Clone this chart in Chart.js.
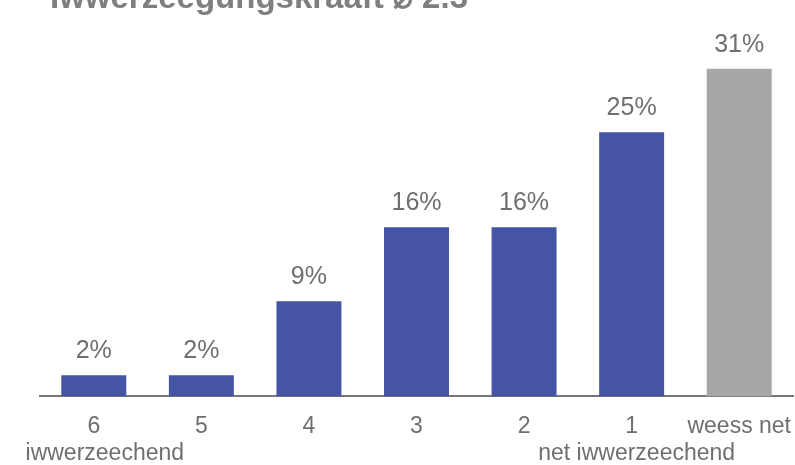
<!DOCTYPE html>
<html>
<head>
<meta charset="utf-8">
<script src="https://cdn.jsdelivr.net/npm/chart.js@4"></script>
<style>
    html, body { margin: 0; padding: 0; background: #fff; }
</style>
</head>
<body>
<canvas id="chart" width="795" height="465"></canvas>
<script>
// data
const categories = ["6", "5", "4", "3", "2", "1", "weess net"];
const shares = [2, 2, 9, 16, 16, 25, 31];
const scaleEnds = ["iwwerzeechend", "net iwwerzeechend"];
const title = "Iwwerzeegungskraaft \u2300 2.3";

const FONT = "'Liberation Sans', Arial, sans-serif";
const textGrey = "#6f6f6f";

// title, value labels and the two scale-end labels
const extraText = {
    id: "extraText",
    afterDatasetsDraw(chart) {
        const ctx = chart.ctx;
        ctx.save();
        ctx.fillStyle = "#7f7f7f";
        ctx.font = "bold 33px " + FONT;
        ctx.textAlign = "left";
        ctx.textBaseline = "alphabetic";
        ctx.fillText(title, 50, 8);

        ctx.fillStyle = textGrey;
        ctx.font = "25px " + FONT;
        ctx.textAlign = "center";
        chart.getDatasetMeta(0).data.forEach((bar, i) => {
            ctx.fillText(shares[i] + "%", bar.x, bar.y - 17);
        });

        const x = chart.scales.x;
        ctx.font = "23px " + FONT;
        ctx.fillText(scaleEnds[0], x.getPixelForValue(0) + 11, 460);
        ctx.fillText(scaleEnds[1], x.getPixelForValue(5) + 5, 460);
        ctx.restore();
    }
};

new Chart(document.getElementById("chart").getContext("2d"), {
    type: "bar",
    data: {
        labels: categories,
        datasets: [{
            data: shares,
            backgroundColor: categories.map((c, i) => i === categories.length - 1 ? "#a6a6a6" : "#4654a5"),
            barPercentage: 0.604,
            categoryPercentage: 1,
        }],
    },
    options: {
        responsive: false,
        animation: false,
        layout: {
            padding: { top: 0, left: 40, right: 2, bottom: 9 },
        },
        plugins: {
            legend: { display: false },
            tooltip: { enabled: false },
        },
        scales: {
            x: {
                grid: { display: false, drawTicks: false },
                border: { display: true, color: "#777777", width: 2 },
                ticks: {
                    color: textGrey,
                    font: { family: FONT, size: 23 },
                    padding: 16,
                    maxRotation: 0,
                    autoSkip: false,
                },
                // "weess net" may run into the right margin, like in the original
                afterFit(scale) {
                    scale.paddingLeft = 0;
                    scale.paddingRight = 0;
                },
            },
            y: {
                display: false,
                min: 0,
                max: 37.5,
            },
        },
    },
    plugins: [extraText],
});
</script>
</body>
</html>
